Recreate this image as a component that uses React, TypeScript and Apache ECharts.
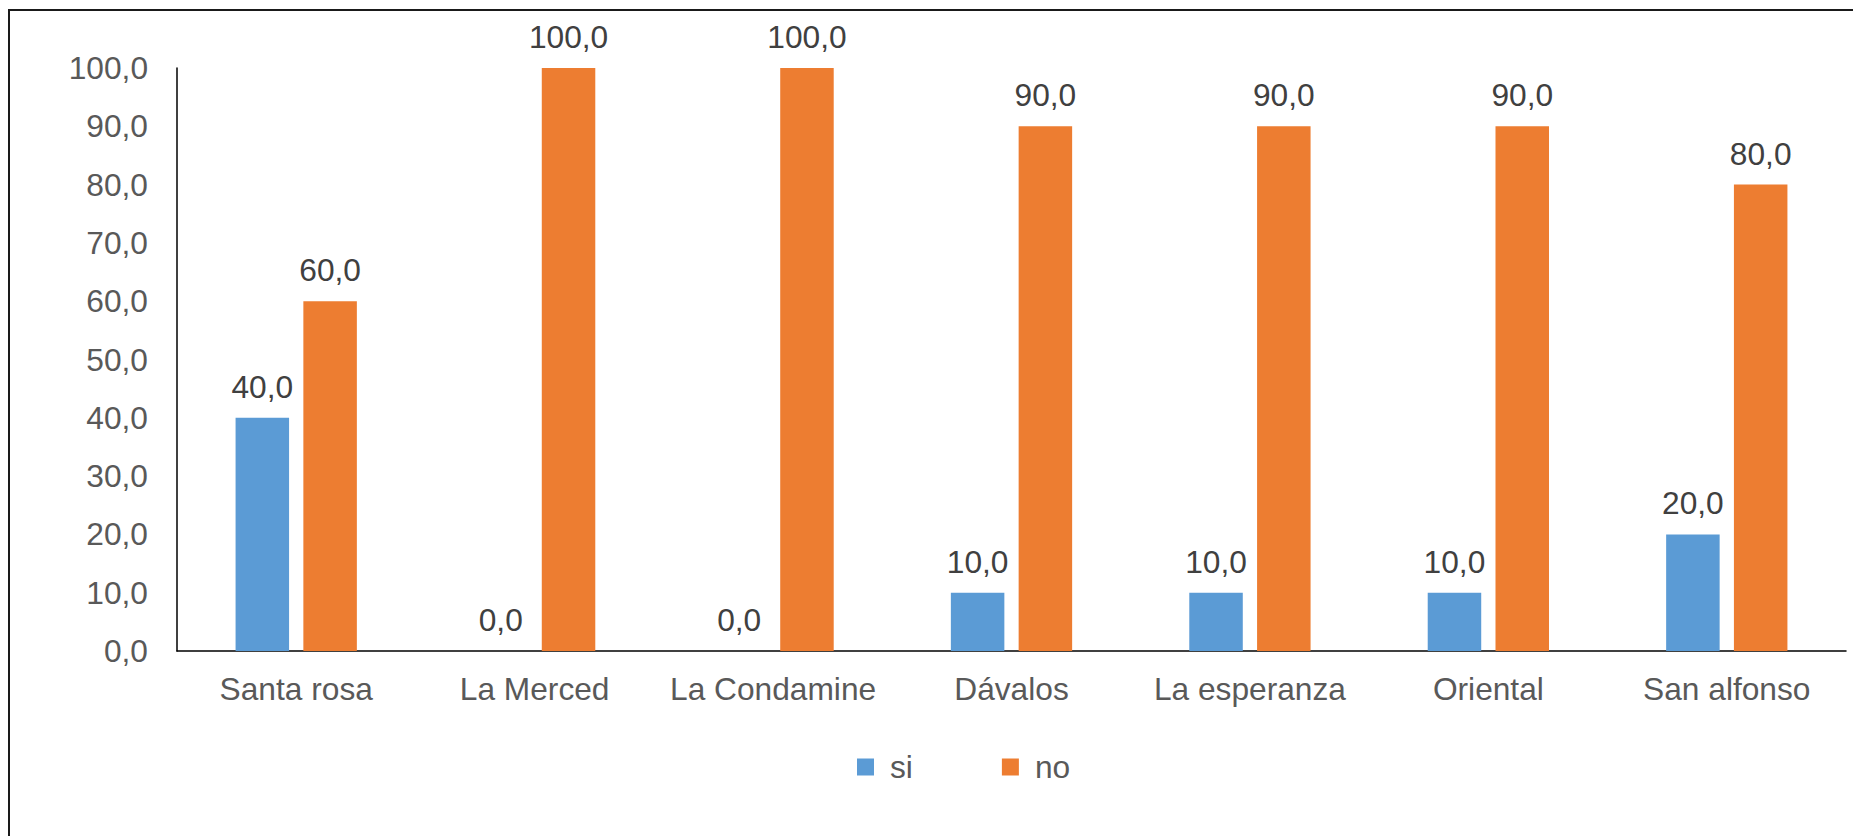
import React, { useEffect, useRef } from "react";
import * as echarts from "echarts";

const categories = ["Santa rosa", "La Merced", "La Condamine", "Dávalos", "La esperanza", "Oriental", "San alfonso"];
const siValues = [40, 0, 0, 10, 10, 10, 20];
const noValues = [60, 100, 100, 90, 90, 90, 80];
const seriesNames = ["si", "no"];

const FONT = "'Liberation Sans', Arial, sans-serif";
const FS = 31.7;
const fmt = (v: number) => Number(v).toFixed(1).replace(".", ",");

export default function App() {
  const ref = useRef<HTMLDivElement>(null);
  useEffect(() => {
    document.documentElement.style.overflow = "hidden";
    document.body.style.overflow = "hidden";
    const chart = echarts.init(ref.current!, null, { renderer: "svg" });
    const labelStyle = {
      show: true,
      position: "top" as const,
      distance: 15,
      fontSize: FS,
      color: "#404040",
      fontFamily: FONT,
      formatter: (p: any) => fmt(p.value),
    };
    chart.setOption({
      animation: false,
      textStyle: { fontFamily: FONT },
      grid: { left: 167, top: 57, width: 1669, height: 583, containLabel: false },
      legend: {
        data: seriesNames,
        left: 842,
        top: 735,
        itemWidth: 17,
        itemHeight: 17,
        itemGap: 89,
        icon: "rect",
        textStyle: { fontSize: FS, color: "#595959", fontFamily: FONT, padding: [0, 0, 0, 11] },
      },
      xAxis: {
        type: "category",
        data: categories,
        axisLine: { lineStyle: { color: "#000", width: 1.5 } },
        axisTick: { show: false },
        axisLabel: { fontSize: FS, color: "#595959", margin: 22, fontFamily: FONT, interval: 0 },
      },
      yAxis: {
        type: "value",
        min: 0,
        max: 100,
        interval: 10,
        splitLine: { show: false },
        axisLine: { show: true, lineStyle: { color: "#000", width: 1.5 } },
        axisTick: { show: false },
        axisLabel: { fontSize: FS, color: "#595959", margin: 29, fontFamily: FONT, formatter: (v: number) => fmt(v) },
      },
      series: [
        {
          name: seriesNames[0],
          type: "bar",
          data: siValues,
          barWidth: 53.5,
          barGap: "26.7%",
          itemStyle: { color: "#5B9BD5" },
          label: labelStyle,
        },
        {
          name: seriesNames[1],
          type: "bar",
          data: noValues,
          barWidth: 53.5,
          barGap: "26.7%",
          itemStyle: { color: "#ED7D31" },
          label: labelStyle,
        },
      ],
    });
    return () => chart.dispose();
  }, []);
  return (
    <div style={{ width: 1880, height: 850, border: "2px solid #1a1a1a", boxSizing: "border-box", marginTop: 1 }}>
      <div ref={ref} style={{ width: 1876, height: 846 }} />
    </div>
  );
}
